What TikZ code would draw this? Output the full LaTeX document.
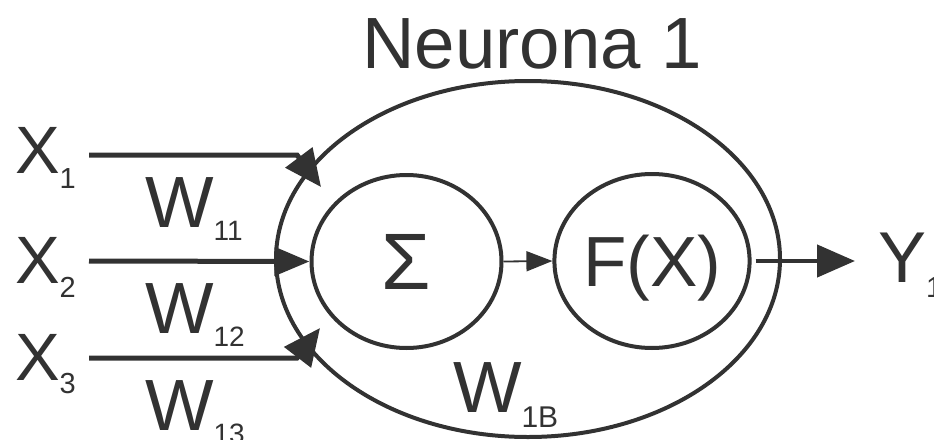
\documentclass[tikz,border=0pt]{standalone}
\usepackage{fontspec}
\setmainfont{Liberation Sans}
\usetikzlibrary{arrows.meta,shapes.geometric}
\definecolor{ink}{RGB}{50,50,50}
\newcommand{\fsz}[1]{\fontsize{#1}{#1}\selectfont}
\begin{document}
\begin{tikzpicture}[x=1pt,y=-1pt,
  lbl/.style={anchor=base west,inner sep=0pt,outer sep=0pt,text=ink},
  unit/.style={draw=ink,line width=4pt,ellipse,inner sep=0pt,text=ink,text depth=0pt},
  inarrow/.style={draw=ink,line width=5pt,-{Triangle[length=37pt,width=33pt]}},
  midarrow/.style={draw=ink,line width=5pt,-{Triangle[length=35pt,width=28pt]}},
  thinarrow/.style={draw=ink,line width=1.8pt,-{Triangle[length=26pt,width=20pt]}},
  outarrow/.style={draw=ink,line width=4.5pt,-{Triangle[length=38pt,width=32pt]}}]
\useasboundingbox (0,0) rectangle (934,439);
% neuron body
\node[unit, minimum width=504pt, minimum height=356pt] (neuron) at (528,259) {};
\node[lbl] (title) at (362.5,68) {\fsz{72.6}Neurona 1};
\node[unit, minimum width=190pt, minimum height=173pt] (sum) at (406.5,261.5) {\fsz{80}Σ};
\node[unit, minimum width=192pt, minimum height=174pt] (fx) at (652,261) {\fsz{71}F(X)};
\node[lbl] (W1B) at (453,412) {\fsz{72.6}W\raisebox{-15pt}{\fsz{30}1B}};
% inputs
\node[lbl] (X1) at (15,173) {\fsz{67}X\raisebox{-15pt}{\fsz{29}1}};
\node[lbl] (X2) at (15,283) {\fsz{67}X\raisebox{-14pt}{\fsz{29}2}};
\node[lbl] (X3) at (15,380) {\fsz{67}X\raisebox{-13pt}{\fsz{29}3}};
\node[lbl] (W11) at (145,227) {\fsz{72.6}W\raisebox{-13pt}{\fsz{28}11}};
\node[lbl] (W12) at (145,333) {\fsz{72.6}W\raisebox{-13pt}{\fsz{28}12}};
\node[lbl] (W13) at (145,430) {\fsz{72.6}W\raisebox{-13pt}{\fsz{28}13}};
% output
\node[lbl] (Y) at (878,282) {\fsz{72}Y\raisebox{-15pt}{\fsz{29}1}};
% connectors
\coordinate (x1s) at (89,155);
\coordinate (x1k) at (297,155);
\coordinate (x1t) at (321,187);
\coordinate (x2s) at (89,261);
\coordinate (x3s) at (89,358);
\coordinate (x3k) at (297,358);
\coordinate (x3t) at (320,328);
\coordinate (yt) at (855,261);
\draw[inarrow] (x1s) -- (x1k) -- (x1t);
\draw[midarrow] (x2s) -- (sum.west);
\draw[inarrow] (x3s) -- (x3k) -- (x3t);
\draw[thinarrow] (sum.east) -- (fx.west);
\draw[outarrow, shorten <=4pt] (fx.east) -- (yt);
\end{tikzpicture}
\end{document}
